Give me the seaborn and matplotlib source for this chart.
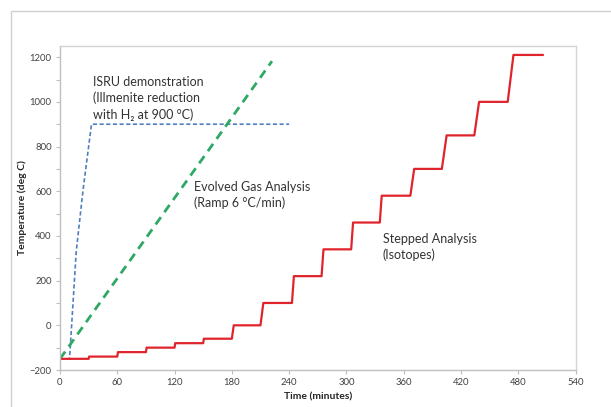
import matplotlib
matplotlib.use("Agg")
import matplotlib.pyplot as plt
import seaborn as sns
import pandas as pd
from matplotlib.patches import Rectangle
from matplotlib.ticker import MultipleLocator

# ---- data ----
isru_time = [0, 10, 17, 24, 33, 240]
isru_temp = [-150, -150, 330, 600, 900, 900]

ega_time = [0, 222]
ega_temp = [-150, 1182]

step_time = [0, 30, 30.5, 60, 60.7, 90, 90.7, 120, 120.7, 150, 150.7, 180, 182, 210,
             213, 243, 245, 274, 276, 305, 307, 335, 337, 367, 371, 400, 405, 434,
             439, 469, 475, 506]
step_temp = [-150, -150, -140, -140, -120, -120, -100, -100, -80, -80, -60, -60, 0, 0,
             100, 100, 220, 220, 340, 340, 460, 460, 580, 580, 700, 700, 850, 850,
             1000, 1000, 1210, 1210]

x_ticks = [0, 60, 120, 180, 240, 300, 360, 420, 480, 540]
y_ticks = [-200, 0, 200, 400, 600, 800, 1000, 1200]

labels = {
    "isru": "ISRU demonstration\n(Illmenite reduction\nwith H\u2082 at 900 °C)",
    "ega": "Evolved Gas Analysis\n(Ramp 6 °C/min)",
    "step": "Stepped Analysis\n(Isotopes)",
}
x_label = "Time (minutes)"
y_label = "Temperature (deg C)"

# ---- style ----
sns.set_theme(style="white")
plt.rcParams["font.family"] = ["Lato", "DejaVu Sans"]

fig = plt.figure(figsize=(6.11, 4.07), dpi=100)
fig.patch.set_facecolor("white")
ax = fig.add_axes([60 / 611, 1 - 370 / 407, (575.5 - 60) / 611, (370 - 46) / 407])

# outer chart-area border (only top/left visible)
fig.patches.append(Rectangle((11 / 611, -0.2), 1.5, 0.2 + 1 - 11 / 407,
                             transform=fig.transFigure, fill=False,
                             edgecolor="#cfcfcf", lw=1.0, zorder=0))

df_isru = pd.DataFrame({"t": isru_time, "T": isru_temp})
df_ega = pd.DataFrame({"t": ega_time, "T": ega_temp})
df_step = pd.DataFrame({"t": step_time, "T": step_temp})

sns.lineplot(data=df_isru, x="t", y="T", ax=ax, sort=False, estimator=None,
             color="#4f7fbf", lw=1.2, linestyle=(0, (2.5, 1.5)))
sns.lineplot(data=df_ega, x="t", y="T", ax=ax, sort=False, estimator=None,
             color="#2ea865", lw=2.0, linestyle=(0, (3.2, 2.2)))
sns.lineplot(data=df_step, x="t", y="T", ax=ax, sort=False, estimator=None,
             color="#e0242c", lw=1.6)

ax.set_xlim(0, 540)
ax.set_ylim(-200, 1250)
ax.set_xticks(x_ticks)
ax.set_yticks(y_ticks)
ax.yaxis.set_minor_locator(MultipleLocator(100))

for s in ["left", "bottom"]:
    ax.spines[s].set_color("#bfbfbf")
    ax.spines[s].set_linewidth(1.0)
for s in ["top", "right"]:
    ax.spines[s].set_color("#d4d4d4")
    ax.spines[s].set_linewidth(1.0)

ax.tick_params(axis="both", which="major", direction="out", length=3, width=0.8,
               color="#bfbfbf", labelsize=6.8, labelcolor="#404040", pad=3,
               left=True, bottom=True)
ax.tick_params(axis="y", which="minor", direction="out", length=3, width=0.8,
               color="#bfbfbf", left=True)

ax.set_xlabel(x_label, fontsize=7.5, fontweight="bold", color="#262626", labelpad=4)
ax.set_ylabel(y_label, fontsize=7.5, fontweight="bold", color="#262626", labelpad=2)

txt_kw = dict(fontsize=9, color="#333333", ha="left", va="center", linespacing=1.35,
              family=["Lato", "DejaVu Sans"])
ax.text(35, 1016, labels["isru"], **txt_kw)
ax.text(140.5, 583, labels["ega"], **txt_kw)
ax.text(338, 352, labels["step"], **txt_kw)

fig.savefig("out.png", dpi=100, facecolor="white")
